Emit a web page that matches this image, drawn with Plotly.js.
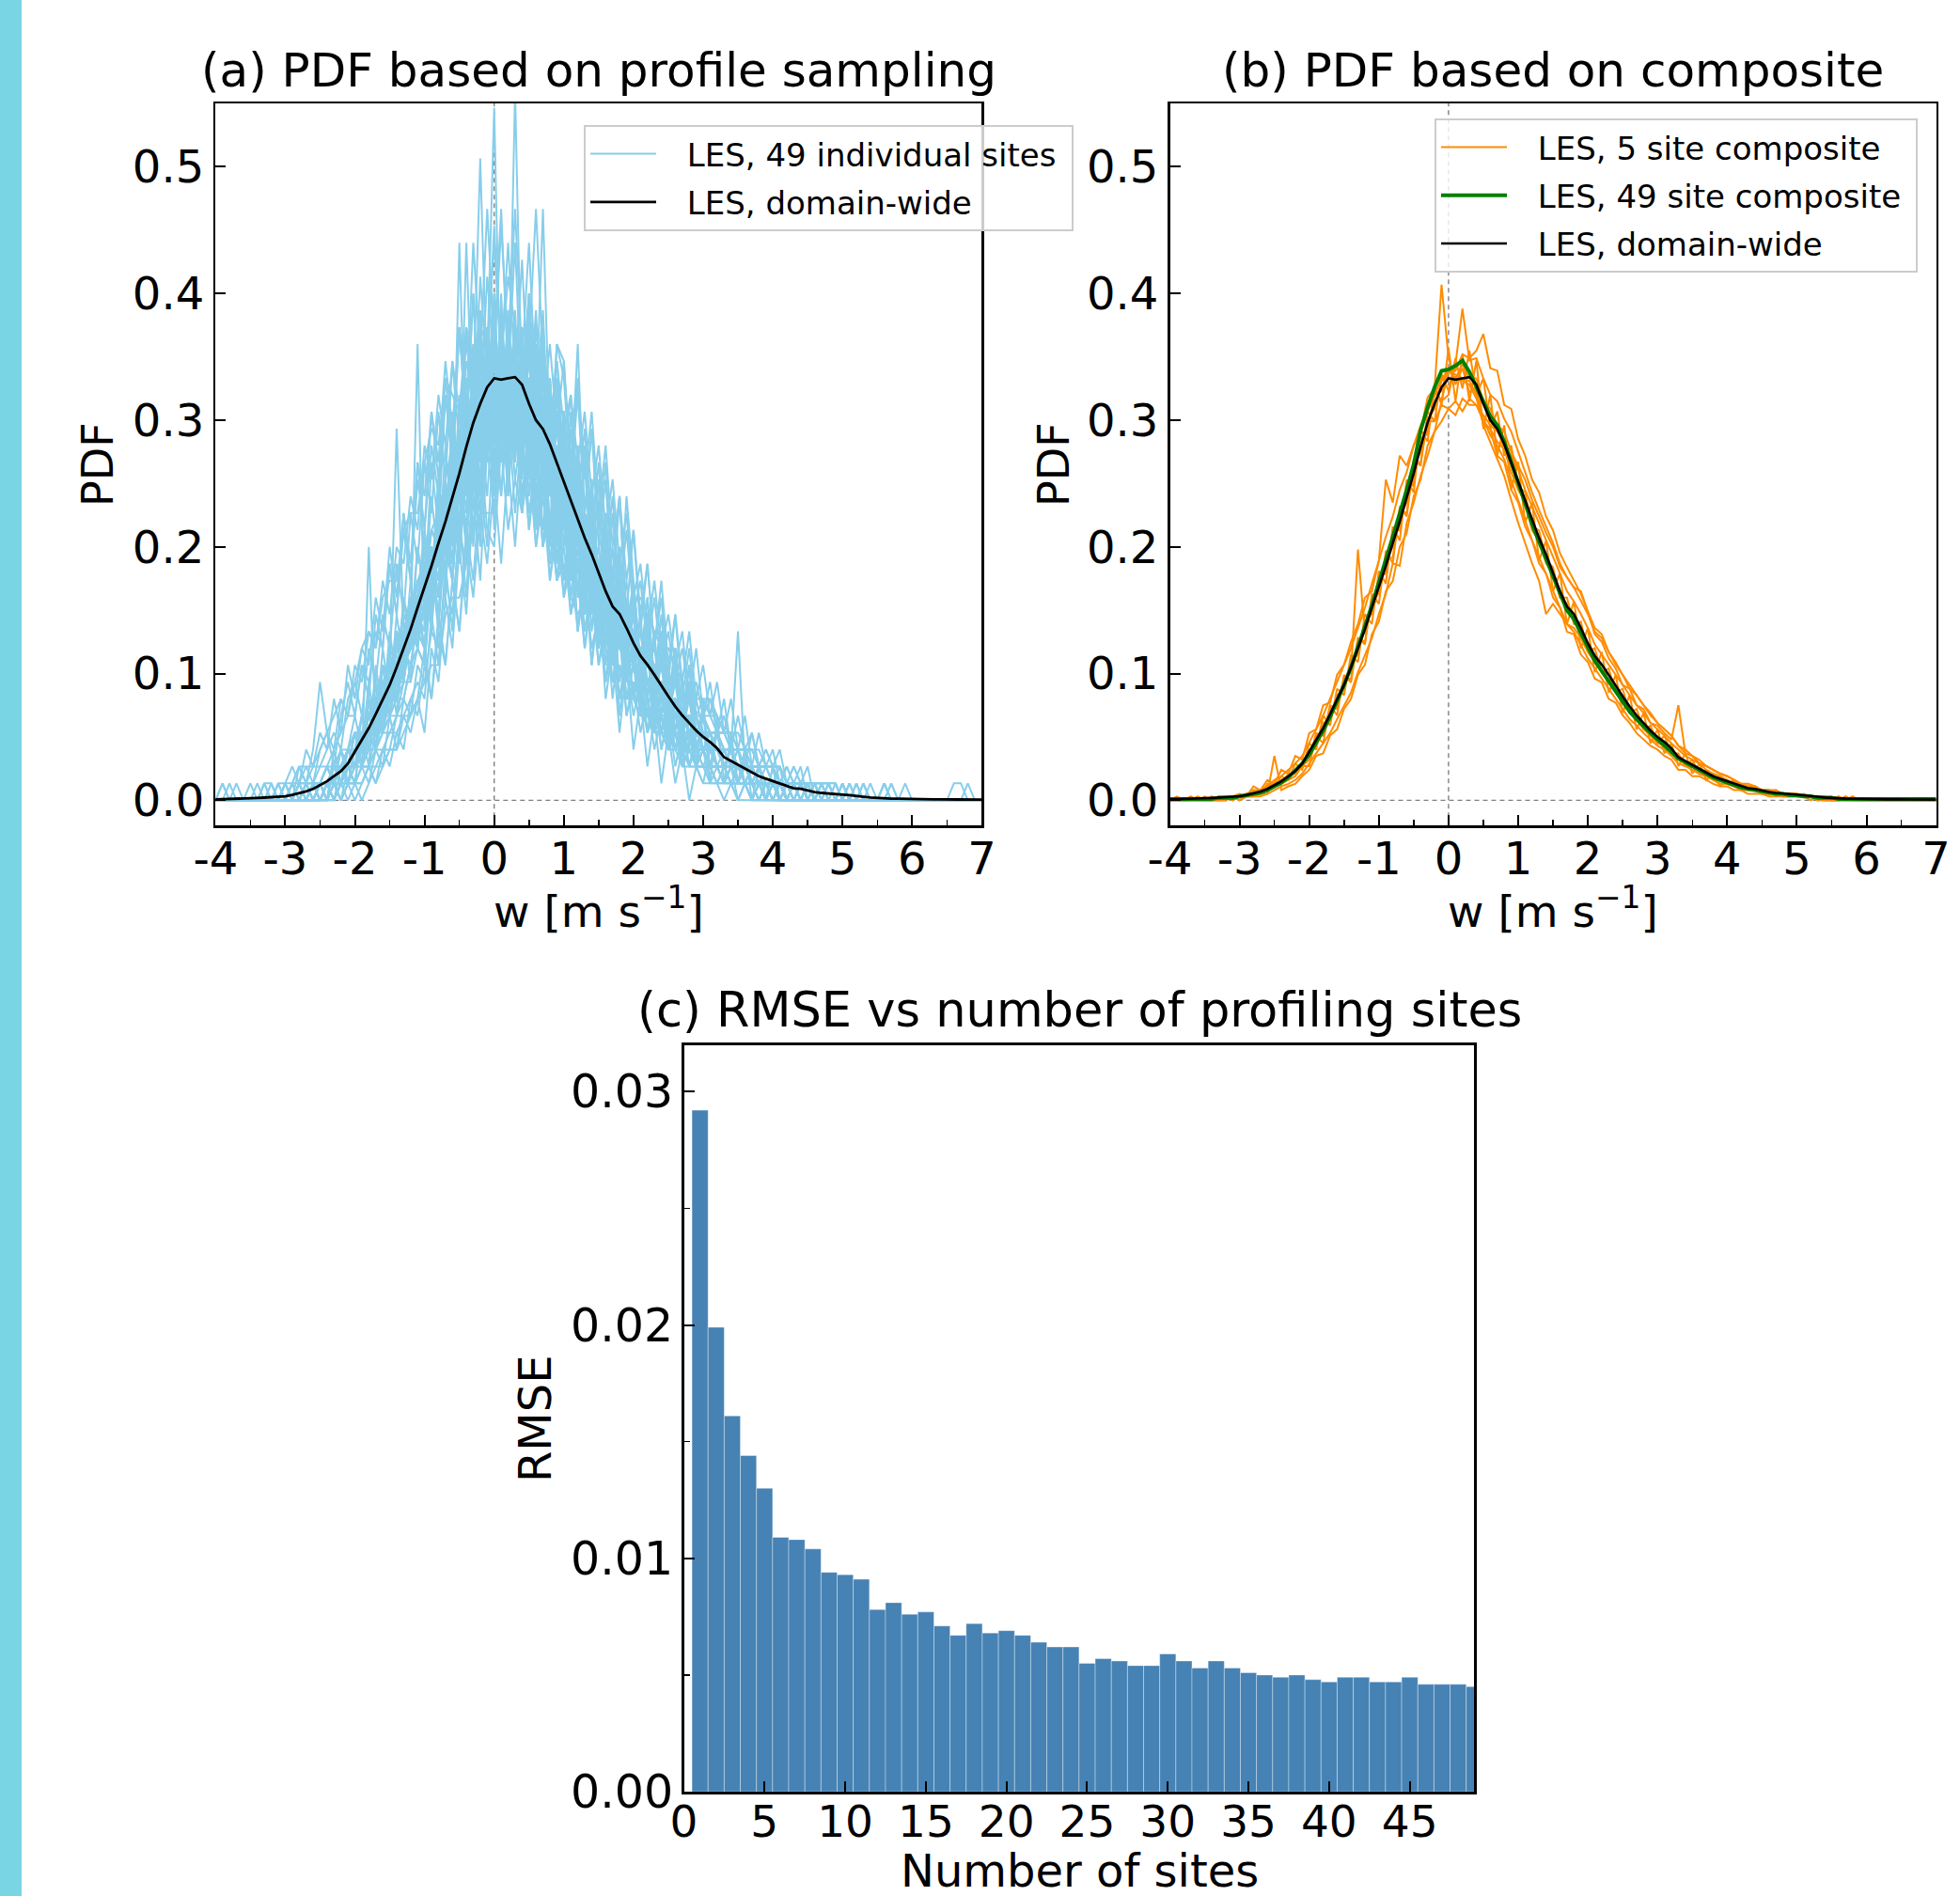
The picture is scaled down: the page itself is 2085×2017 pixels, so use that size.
<!DOCTYPE html>
<html><head><meta charset="utf-8">
<script src="https://cdn.plot.ly/plotly-3.0.1.min.js"></script>
<style>html,body{margin:0;padding:0;background:#fff;}#chart{width:2085px;height:2017px;}</style>
</head><body><div id="chart"></div>
<script>
// ---------------- DATA ----------------
// vertical velocity bins (m s-1)
const wFull = [-4.0,-3.9,-3.8,-3.7,-3.6,-3.5,-3.4,-3.3,-3.2,-3.1,-3.0,-2.9,-2.8,-2.7,-2.6,-2.5,-2.4,-2.3,-2.2,-2.1,-2.0,-1.9,-1.8,-1.7,-1.6,-1.5,-1.4,-1.3,-1.2,-1.1,-1.0,-0.9,-0.8,-0.7,-0.6,-0.5,-0.4,-0.3,-0.2,-0.1,0.0,0.1,0.2,0.3,0.4,0.5,0.6,0.7,0.8,0.9,1.0,1.1,1.2,1.3,1.4,1.5,1.6,1.7,1.8,1.9,2.0,2.1,2.2,2.3,2.4,2.5,2.6,2.7,2.8,2.9,3.0,3.1,3.2,3.3,3.4,3.5,3.6,3.7,3.8,3.9,4.0,4.1,4.2,4.3,4.4,4.5,4.6,4.7,4.8,4.9,5.0,5.1,5.2,5.3,5.4,5.5,5.6,5.7,5.8,5.9,6.0,6.1,6.2,6.3,6.4,6.5,6.6,6.7,6.8,6.9,7.0];
const pdfDomain = [0.0007,0.0008,0.0009,0.0011,0.0013,0.0015,0.0018,0.0021,0.0025,0.0028,0.0032,0.0042,0.0055,0.0070,0.0090,0.012,0.015,0.019,0.023,0.029,0.038,0.048,0.057,0.068,0.079,0.091,0.105,0.120,0.135,0.152,0.168,0.185,0.203,0.220,0.239,0.258,0.279,0.298,0.313,0.326,0.333,0.332,0.333,0.334,0.328,0.313,0.300,0.293,0.281,0.266,0.252,0.236,0.221,0.207,0.194,0.180,0.165,0.153,0.147,0.136,0.124,0.114,0.107,0.099,0.090,0.082,0.074,0.067,0.061,0.055,0.050,0.046,0.041,0.034,0.031,0.028,0.025,0.022,0.019,0.017,0.015,0.013,0.011,0.0095,0.009,0.0075,0.0065,0.0058,0.0052,0.0050,0.0045,0.0040,0.0032,0.0028,0.0022,0.0018,0.0015,0.0013,0.0012,0.0010,0.0009,0.0008,0.0008,0.0007,0.0007,0.0006,0.0006,0.0006,0.0005,0.0005,0.0005];
const pdfComposite49 = [0.001,0.001,0.001,0.001,0.001,0.001,0.001,0.002,0.002,0.002,0.003,0.004,0.005,0.006,0.008,0.011,0.014,0.018,0.023,0.029,0.036,0.045,0.055,0.066,0.078,0.091,0.105,0.120,0.137,0.154,0.171,0.190,0.208,0.226,0.245,0.265,0.292,0.310,0.326,0.339,0.340,0.343,0.347,0.338,0.326,0.314,0.303,0.296,0.283,0.267,0.250,0.234,0.218,0.204,0.190,0.176,0.162,0.150,0.143,0.132,0.120,0.110,0.102,0.094,0.086,0.078,0.070,0.064,0.058,0.053,0.048,0.043,0.038,0.033,0.030,0.027,0.024,0.021,0.018,0.016,0.014,0.012,0.010,0.009,0.008,0.007,0.006,0.005,0.005,0.004,0.004,0.003,0.003,0.002,0.002,0.002,0.001,0.001,0.001,0.001,0.001,0.001,0.001,0.001,0.001,0.001,0.001,0.001,0.001,0.001,0.001];

// samples per 0.1 m/s bin at each of the 49 profiling sites (750 samples per site -> PDF = count / 75)
const siteSamplesPerPdfUnit = 75;
const siteCounts = [
[0,0,0,0,0,0,0,0,0,0, 0,0,1,0,0,1,2,1,3,1, 3,5,4,3,7,6,9,8,12,10, 14,12,17,15,21,18,19,25,22,27, 23,29,21,26,28,20,24,19,25,18, 20,15,19,13,16,11,14,10,12,9, 11,7,9,6,8,5,7,4,5,3, 4,2,4,2,3,1,2,2,1,0, 2,0,1,1,0,0,1,0,0,0, 0,1,0,0,0,0,0,0,0,0, 0,0,0,0,0,0,0,0,0,0,0],
[0,0,0,0,0,1,0,0,1,0, 1,2,1,3,2,4,3,6,4,8, 6,9,8,12,10,15,12,17,14,20, 18,23,20,26,22,28,23,27,22,25, 21,24,19,23,17,21,15,18,13,16, 12,14,10,13,9,11,7,9,6,8, 5,7,4,6,3,5,3,4,2,3, 2,2,1,2,1,1,1,0,1,0, 0,1,0,0,0,0,0,0,0,0, 0,0,0,0,0,0,0,0,0,0, 0,0,0,0,0,0,0,0,0,0,0],
[0,0,0,0,0,0,0,0,0,0, 0,0,0,0,1,0,1,1,1,2, 2,4,3,5,4,7,6,9,8,11, 10,13,14,13,18,16,21,19,24,21, 26,23,27,21,25,28,22,20,24,19, 22,17,19,15,17,12,15,11,13,10, 11,8,10,7,8,6,7,5,6,4, 5,3,4,3,2,3,2,1,2,1, 1,2,0,1,1,0,0,1,0,0, 1,0,0,0,0,0,1,0,0,0, 0,0,0,0,0,0,0,0,0,0,0],
[0,0,0,0,0,0,0,0,0,0, 0,0,0,0,0,1,0,1,1,2, 2,3,4,4,6,5,8,9,11,12, 13,16,15,19,21,20,26,24,28,27, 33,26,31,28,25,30,24,27,21,22, 19,20,16,15,14,12,11,12,9,8, 9,6,7,6,5,4,4,3,4,2, 3,2,2,1,2,1,1,0,1,1, 0,1,0,0,0,0,0,0,0,0, 0,0,0,0,0,0,0,0,0,0, 0,0,0,0,0,0,0,0,0,0,0],
[0,0,0,0,0,0,0,0,0,0, 0,0,0,0,0,0,1,0,1,0, 1,1,2,1,3,2,4,3,6,5, 8,6,10,8,13,10,16,13,19,15, 22,18,25,21,27,22,28,23,27,22, 26,20,25,19,23,17,21,15,18,13, 16,11,14,9,13,8,11,7,10,6, 8,5,7,4,6,3,5,2,4,2, 3,1,2,1,2,0,1,1,1,0, 1,0,1,0,0,0,1,0,0,0, 0,0,0,0,0,0,0,0,0,0,0],
[0,0,0,0,0,0,1,0,0,1, 0,1,2,1,1,3,4,2,5,7, 5,8,6,11,9,14,11,16,13,19, 16,21,18,24,20,28,22,30,21,27, 23,26,19,25,18,22,16,20,14,18, 12,16,10,14,8,12,7,11,5,9, 6,8,4,7,3,5,2,4,3,2, 1,3,2,1,2,0,1,1,0,1, 0,0,1,0,0,0,0,0,0,0, 0,0,0,0,0,0,0,0,0,0, 0,0,0,0,0,0,0,0,0,0,0],
[0,0,0,0,0,0,0,0,0,0, 1,0,0,0,1,1,0,2,1,3, 2,4,5,4,6,8,7,10,9,12, 11,15,14,18,16,20,19,23,21,26, 41,22,28,24,26,21,25,20,23,19, 21,16,18,14,16,12,14,10,12,9, 10,8,9,7,7,5,6,4,5,4, 4,3,3,2,3,1,2,1,2,1, 1,1,0,1,0,1,0,0,0,0, 0,0,0,1,0,0,0,0,0,0, 0,0,0,0,0,0,0,0,0,0,0],
[0,0,0,0,0,0,0,0,0,0, 0,0,0,0,0,1,1,0,1,2, 3,2,4,3,5,6,8,7,10,9, 12,11,15,14,17,18,20,19,23,22, 24,27,22,42,23,26,21,24,19,22, 18,19,15,17,13,15,11,13,10,11, 9,9,7,8,6,7,5,5,4,4, 4,3,3,2,2,2,1,2,1,1, 1,0,1,0,1,0,0,0,0,0, 0,0,0,0,0,0,0,0,0,0, 0,0,0,0,0,0,0,0,0,0,0],
[0,0,0,0,0,0,0,0,0,0, 0,0,1,1,0,1,1,2,2,2, 3,4,4,6,6,8,8,10,10,13, 13,16,15,18,18,22,21,24,38,24, 25,26,23,26,22,24,20,22,18,19, 17,16,14,15,12,13,10,11,9,9, 8,7,7,6,5,5,4,4,3,3, 3,2,2,2,1,1,1,1,0,1, 0,1,0,0,0,0,1,0,0,0, 0,0,0,0,0,0,0,0,0,0, 0,0,0,0,0,0,0,0,0,0,0],
[0,0,0,0,0,0,0,0,0,0, 0,0,0,0,0,0,1,1,2,1, 3,2,15,4,5,7,6,9,11,10, 13,12,16,15,19,18,22,21,25,23, 26,23,27,22,25,22,24,20,22,19, 20,16,18,14,15,12,13,11,11,9, 10,8,8,7,7,6,6,4,5,4, 4,3,3,3,2,2,2,1,1,1, 1,1,1,0,0,1,0,0,0,0, 0,0,0,0,0,0,0,0,0,1, 0,0,0,0,0,0,0,0,0,0,0],
[0,0,1,0,0,0,0,1,0,1, 1,0,2,1,3,7,4,3,6,5, 8,7,10,9,13,11,15,14,18,16, 21,19,24,21,26,23,27,24,26,22, 25,20,24,19,22,17,20,15,17,13, 15,11,13,9,12,8,10,7,8,6, 7,4,6,3,5,3,4,2,3,2, 3,1,2,1,2,1,1,0,1,0, 1,0,0,0,0,0,0,0,0,0, 0,0,0,0,0,0,0,0,0,0, 0,0,0,0,0,0,0,0,0,0,0],
[0,0,0,0,0,0,0,0,0,0, 0,0,0,0,0,1,0,0,1,1, 1,2,1,3,2,5,3,6,5,8, 7,10,9,13,11,16,14,18,16,22, 19,25,21,27,23,28,22,27,22,26, 20,24,18,22,16,20,14,18,12,16, 11,13,9,12,8,10,7,9,6,7, 5,6,4,5,3,10,2,4,2,3, 2,1,2,1,1,0,1,1,0,1, 0,0,1,0,0,0,0,0,0,0, 0,0,0,0,0,0,0,0,0,0,0],
[0,0,0,0,0,0,0,0,0,0, 0,0,0,1,0,1,1,1,2,2, 3,3,5,5,6,6,8,9,10,27, 10,15,13,19,16,22,18,25,20,28, 22,29,23,27,21,27,20,25,18,23, 18,19,16,16,14,14,12,12,10,11, 9,9,8,7,7,6,5,5,4,4, 4,3,3,2,2,2,2,1,1,1, 1,1,0,1,0,0,0,1,0,0, 0,0,0,0,0,0,0,0,0,0, 0,0,0,0,0,0,0,0,0,0,0],
[0,0,0,0,0,0,0,0,0,0, 0,1,0,0,1,1,1,2,2,3, 3,4,5,6,7,8,22,10,12,12, 16,13,19,15,22,18,25,20,28,23, 29,22,27,21,26,19,24,18,22,16, 20,14,17,12,15,10,13,9,11,8, 8,7,7,6,6,5,4,4,4,3, 3,3,2,2,2,1,1,1,1,1, 1,0,0,0,0,0,0,0,0,0, 0,0,0,0,0,0,0,0,0,0, 0,0,0,0,0,0,0,0,0,0,0],
[0,0,0,0,0,0,0,0,0,0, 0,0,0,0,0,1,0,1,1,2, 2,3,3,5,4,6,6,8,9,10, 14,10,16,13,18,15,22,18,25,21, 20,30,21,28,20,28,19,27,18,25, 20,19,27,16,16,14,13,12,12,11, 12,8,10,6,9,5,8,4,6,3, 4,4,3,3,2,2,2,2,1,1, 1,1,1,0,1,0,0,0,1,0, 0,0,0,0,0,0,0,0,0,0, 0,0,0,0,0,0,0,0,0,0,0],
[0,1,0,0,0,0,0,0,0,0, 0,1,0,1,1,1,2,2,3,3, 4,4,5,6,7,7,9,9,11,11, 13,11,16,13,18,14,20,15,21,16, 15,21,16,19,17,20,15,19,14,18, 16,16,15,14,14,13,12,12,11,11, 10,9,9,8,8,7,7,6,6,5, 5,4,4,4,3,3,3,2,2,2, 2,1,1,1,1,1,0,1,0,0, 1,0,0,0,0,0,0,1,0,0, 0,0,0,0,0,0,0,0,0,0,0],
[0,0,0,0,0,0,0,0,0,0, 0,0,0,0,0,0,1,1,1,2, 1,4,3,6,4,8,5,10,7,12, 9,15,12,17,14,20,16,23,19,25, 21,27,22,28,22,27,35,26,19,24, 17,22,15,20,13,17,11,15,10,13, 8,11,6,10,5,8,4,7,3,6, 4,3,3,3,2,2,2,2,1,1, 1,1,1,0,0,1,0,0,0,0, 0,0,0,0,0,0,0,0,0,0, 0,0,0,0,0,0,0,0,0,0,0],
[0,0,0,0,0,0,0,0,0,0, 0,0,1,0,1,1,2,1,3,2, 4,3,6,5,8,7,10,9,12,11, 14,13,16,15,19,18,33,21,24,23, 27,23,26,24,25,21,23,19,21,17, 19,15,16,13,14,11,12,9,10,8, 9,6,7,5,6,4,5,3,4,2, 3,2,2,1,2,1,1,0,1,0, 1,0,0,0,0,0,0,0,0,0, 0,0,0,0,0,0,0,0,0,0, 0,0,0,0,0,0,0,0,0,0,0],
[0,0,0,0,0,0,0,0,0,0, 0,0,0,0,1,0,0,1,1,1, 2,2,2,4,4,5,6,6,8,9, 8,14,10,16,13,19,15,21,17,24, 22,24,23,26,24,25,23,35,21,23, 23,17,21,15,19,13,17,11,14,10, 13,8,11,7,10,5,9,4,7,3, 5,4,4,3,3,3,2,2,2,2, 1,1,1,1,1,0,1,0,0,0, 0,0,0,0,1,0,0,0,0,0, 0,0,0,0,0,0,0,0,0,0,0],
[0,0,0,0,0,0,0,0,0,0, 0,0,0,0,1,1,1,1,1,3, 2,4,3,6,5,8,7,10,9,12, 11,15,13,18,16,33,19,24,21,26, 23,27,22,26,23,25,20,24,19,21, 17,19,15,17,13,15,11,13,10,11, 8,10,7,8,6,7,5,6,4,5, 3,4,2,3,2,2,1,2,1,1, 1,1,0,1,0,1,0,0,0,0, 0,0,0,0,0,0,0,0,0,0, 0,0,0,0,0,0,0,0,0,0,0],
[0,0,0,0,0,0,0,0,0,0, 0,0,0,1,0,1,2,1,2,3, 4,4,5,7,6,9,8,11,10,13, 14,13,17,16,20,19,23,21,25,24, 30,21,27,22,26,20,25,19,23,16, 21,14,18,12,16,10,13,9,11,7, 8,7,7,6,5,5,4,4,3,3, 3,2,2,2,1,1,1,1,1,0, 1,0,0,0,0,0,0,0,0,0, 0,0,0,0,0,0,0,0,0,0, 0,0,0,0,0,0,0,0,0,0,0],
[0,0,0,0,0,0,0,0,0,1, 0,0,1,0,1,1,1,1,2,2, 3,3,4,5,5,6,7,8,9,10, 9,14,11,17,13,20,15,23,18,26, 19,26,18,27,19,25,17,24,16,23, 21,15,20,13,19,12,17,10,15,9, 13,8,12,7,11,6,9,5,8,4, 5,4,4,4,3,3,3,2,2,2, 2,1,1,1,1,1,1,0,0,1, 0,0,1,0,0,0,0,0,0,0, 0,0,0,0,0,0,0,0,0,0,0],
[0,0,0,0,0,0,0,0,0,0, 0,0,0,0,0,0,1,1,1,2, 1,4,2,7,4,9,6,12,9,15, 12,20,16,24,20,28,23,33,26,35, 27,35,25,33,23,30,19,26,15,21, 13,17,10,14,8,12,6,9,4,8, 3,6,2,5,1,4,1,3,0,2, 1,1,1,0,1,0,0,0,0,0, 0,0,0,0,0,0,0,0,0,0, 0,0,0,0,0,0,0,0,0,0, 0,0,0,0,0,0,0,0,0,0,0],
[0,0,0,0,0,0,0,1,0,0, 0,0,0,1,0,1,1,0,1,2, 1,2,2,3,3,4,4,5,5,6, 9,6,11,8,13,10,15,12,17,14, 19,14,20,15,21,16,20,15,20,14, 20,14,19,13,17,11,16,10,15,9, 12,8,11,7,10,6,9,5,8,4, 5,5,4,4,4,3,3,3,2,2, 2,2,1,1,1,1,1,1,1,0, 1,0,0,1,0,0,0,0,0,0, 0,0,0,0,0,0,0,0,0,0,0],
[0,0,0,0,0,0,0,0,0,0, 0,0,0,0,1,0,1,2,1,2, 4,3,5,4,7,6,9,8,11,10, 14,13,16,15,19,18,22,20,24,23, 27,23,26,24,26,22,24,21,23,19, 20,17,17,15,16,13,13,11,12,10, 10,8,9,7,7,6,6,5,5,4, 4,3,3,2,3,2,2,1,2,1, 1,1,1,0,1,0,0,0,0,0, 0,0,0,0,0,0,0,0,0,0, 0,0,0,0,0,0,0,0,0,0,0],
[0,0,0,1,0,0,0,0,1,0, 1,0,1,2,1,2,3,4,3,6, 7,5,9,7,11,9,14,11,17,14, 20,17,23,19,26,21,28,23,29,22, 28,21,26,20,25,18,22,16,20,14, 17,12,15,10,13,9,11,8,10,6, 8,5,6,4,5,3,4,3,4,2, 3,2,2,1,2,1,1,1,0,1, 0,1,0,0,0,0,0,0,0,0, 0,0,0,0,0,0,0,0,0,0, 0,0,0,0,0,0,0,0,0,0,0],
[0,0,0,0,0,0,0,0,0,0, 0,0,0,0,0,1,0,1,1,2, 3,2,4,3,6,5,7,7,10,9, 12,11,15,13,17,16,20,19,22,22, 25,22,26,23,27,22,25,21,24,20, 21,17,19,15,17,13,15,11,13,10, 11,8,9,7,8,6,7,5,5,4, 5,3,4,2,3,2,2,1,2,1, 1,1,0,1,0,0,1,0,0,0, 0,0,0,0,0,0,0,0,0,0, 0,0,0,0,0,0,0,0,1,0,0],
[0,0,0,0,0,0,0,0,0,0, 0,0,0,0,0,0,0,1,1,1, 2,2,3,4,5,5,6,8,9,11, 15,11,19,15,23,19,28,22,31,25, 34,26,33,25,32,23,29,20,25,16, 21,13,18,11,15,9,12,7,10,5, 7,6,5,5,4,4,3,3,2,2, 2,2,1,1,1,1,1,0,0,0, 0,0,0,0,0,0,0,0,0,0, 0,0,0,0,0,0,0,0,0,0, 0,0,0,0,0,0,0,0,0,0,0],
[0,0,0,0,0,0,0,0,0,0, 0,0,0,0,0,0,0,1,0,1, 1,0,1,2,2,3,3,4,5,6, 4,9,7,12,9,15,11,18,13,21, 17,21,20,25,22,26,23,27,22,26, 22,24,20,23,18,21,16,19,14,17, 12,14,10,13,9,11,8,10,6,9, 5,7,4,6,3,5,3,4,2,3, 2,3,1,2,1,2,0,1,1,1, 0,1,0,1,0,0,1,0,0,0, 0,0,0,0,0,0,1,1,0,0,0],
[0,0,0,0,0,0,0,0,0,0, 0,0,0,1,1,0,1,2,2,3, 2,5,3,8,5,10,7,12,10,15, 12,18,14,21,16,24,19,26,21,28, 22,28,20,27,21,25,18,23,16,21, 15,19,12,17,11,14,9,12,7,10, 6,9,5,8,4,6,3,5,2,4, 3,2,2,2,1,1,1,1,1,1, 0,1,0,0,0,0,0,0,0,0, 0,0,0,0,0,0,0,0,0,0, 0,0,0,0,0,0,0,0,0,0,0],
[0,0,0,0,0,0,0,0,0,0, 0,0,0,0,0,0,1,1,0,2, 2,3,3,4,5,6,6,8,9,10, 13,10,17,12,20,15,23,18,25,21, 27,21,28,22,27,20,26,19,25,18, 22,16,21,14,18,12,17,10,15,9, 12,7,11,6,9,5,8,4,7,3, 4,4,3,3,2,2,2,2,1,1, 1,1,1,1,0,0,0,0,0,0, 0,0,0,0,0,0,0,0,0,0, 0,0,0,0,0,0,0,0,0,0,0],
[0,0,0,0,0,0,0,0,0,0, 0,1,0,0,0,1,1,1,2,2, 4,2,6,3,8,5,10,7,12,9, 15,11,18,13,21,16,24,19,26,21, 28,22,28,21,27,20,25,19,24,17, 22,15,20,13,17,11,15,9,13,8, 11,7,10,6,9,4,8,4,7,3, 5,2,4,2,3,1,3,1,2,0, 1,1,1,1,1,1,0,0,0,0, 0,0,0,0,0,0,0,0,0,0, 0,0,0,0,0,0,0,0,0,0,0],
[0,0,0,0,0,0,0,0,0,0, 0,1,1,1,2,2,2,3,4,5, 5,8,7,10,9,14,11,17,13,20, 16,23,19,25,21,28,22,30,21,28, 16,27,19,25,17,23,16,20,13,17, 17,11,14,9,13,8,11,6,10,5, 7,6,5,5,4,4,4,3,3,2, 2,2,2,1,1,1,1,1,1,0, 1,0,0,0,0,0,0,0,0,0, 0,0,0,0,0,0,0,0,0,0, 0,0,0,0,0,0,0,0,0,0,0],
[0,0,0,0,0,0,0,0,0,0, 0,0,0,0,0,1,0,1,0,1, 1,2,3,3,4,5,5,7,7,9, 8,13,11,15,13,18,16,21,18,24, 20,26,21,28,22,28,21,27,20,25, 18,23,16,21,14,19,12,17,11,18, 13,8,12,7,10,5,9,4,8,3, 5,4,4,3,3,3,2,2,2,2, 1,1,1,1,1,1,0,1,0,0, 0,0,0,0,0,0,0,0,0,0, 0,0,0,0,0,0,0,0,0,0,0],
[0,0,0,0,0,0,0,0,0,0, 0,0,0,1,0,0,1,1,2,2, 3,3,4,5,5,6,7,8,9,10, 9,14,11,16,13,19,15,21,17,23, 18,24,18,24,17,22,16,21,15,19, 18,13,17,12,15,10,13,9,12,7, 9,8,8,7,6,6,5,5,4,4, 4,3,3,3,2,2,2,2,1,1, 1,1,1,1,0,1,0,0,0,0, 0,0,0,0,0,0,1,0,0,0, 0,0,0,0,0,0,0,0,0,0,0],
[0,0,0,0,0,0,0,0,0,0, 0,0,1,0,1,1,1,2,2,3, 5,3,7,4,9,6,11,8,13,10, 16,12,19,15,23,18,25,21,28,22, 29,22,28,21,26,19,24,18,22,15, 20,13,18,11,16,9,14,8,12,7, 10,5,9,4,7,3,6,2,5,2, 3,3,2,2,2,1,1,1,1,1, 1,0,0,0,0,0,0,0,0,0, 0,0,0,0,0,0,0,0,0,0, 0,0,0,0,0,0,0,0,0,0,0],
[0,0,0,0,0,0,0,0,0,0, 0,0,0,0,1,0,1,1,1,1, 2,3,3,5,5,6,7,8,9,11, 9,15,12,18,14,21,17,24,20,26, 21,28,22,29,21,27,20,25,18,23, 23,16,20,13,18,11,16,10,14,8, 12,7,10,6,9,4,8,3,7,2, 4,4,3,3,2,2,2,2,1,1, 1,1,1,0,1,0,1,0,0,0, 1,0,0,0,0,0,0,0,0,0, 0,0,0,0,0,0,0,0,0,0,0],
[0,0,0,0,0,0,0,0,0,0, 0,0,0,0,0,1,2,1,1,3, 2,3,5,6,5,8,9,8,11,13, 12,16,17,15,19,20,23,22,22,27, 24,24,28,25,21,23,25,20,19,22, 18,19,15,16,16,12,11,13,10,10, 9,10,7,7,8,5,6,5,4,5, 3,4,3,2,2,3,1,2,2,1, 1,1,0,1,1,0,0,1,0,0, 0,0,0,0,0,0,0,0,0,0, 0,0,0,0,0,0,0,0,0,0,0],
[0,0,0,0,0,0,0,0,0,0, 0,0,1,1,0,1,1,2,2,2, 4,4,4,6,8,7,9,11,10,12, 15,13,18,18,17,22,21,23,27,23, 26,25,22,27,22,24,20,22,20,17, 19,16,14,16,12,13,11,9,11,8, 9,6,7,6,4,6,4,3,4,3, 2,3,2,1,2,1,1,1,0,1, 1,0,0,0,0,1,0,0,0,0, 0,0,0,0,0,0,0,0,0,0, 0,0,0,0,0,0,0,0,0,0,0],
[0,0,0,0,0,0,0,0,0,0, 0,0,0,0,1,0,0,1,0,1, 0,1,2,1,2,3,3,5,4,6, 7,8,8,11,12,12,14,16,17,17, 17,23,20,26,22,27,23,28,20,27, 26,18,25,17,22,16,20,13,18,11, 16,10,14,9,12,7,11,6,9,5, 6,6,5,4,4,4,3,3,3,2, 2,2,1,2,1,1,1,0,1,1, 0,1,0,0,0,0,0,1,0,0, 0,0,0,0,0,0,0,0,0,0,0],
[0,0,0,0,0,0,0,0,0,0, 0,0,0,1,1,0,1,1,2,1, 3,4,3,6,6,7,7,10,10,11, 14,13,15,18,17,20,22,21,25,24, 24,27,25,23,27,22,22,23,19,21, 18,18,17,14,15,14,11,12,12,9, 10,8,8,8,6,6,6,4,5,4, 4,3,3,2,3,2,1,2,1,2, 1,1,1,0,1,0,0,0,1,0, 0,0,0,0,0,0,0,0,0,0, 0,0,0,0,0,0,0,0,0,0,0],
[0,0,0,0,0,0,0,1,1,0, 1,1,2,2,2,3,4,5,6,5, 7,9,10,9,12,13,13,16,17,17, 20,22,21,25,24,23,28,26,24,27, 22,24,21,23,18,20,17,16,17,13, 14,12,11,12,9,10,9,7,8,6, 6,6,4,5,4,3,4,2,3,2, 2,2,1,2,1,1,1,0,1,1, 0,0,1,0,0,0,0,0,0,0, 0,0,0,0,0,0,0,0,0,0, 0,0,0,0,0,0,0,0,0,0,0],
[0,0,0,0,0,0,0,0,0,0, 0,0,0,0,0,1,1,0,2,1, 2,3,4,3,5,7,6,7,10,10, 11,12,15,14,16,19,18,21,23,21, 25,23,24,27,22,25,24,21,23,20, 20,20,17,17,16,13,14,13,11,12, 9,10,8,9,6,7,7,5,5,5, 4,4,3,3,3,2,2,1,2,1, 1,1,1,0,1,1,0,0,0,0, 0,0,0,0,0,0,0,0,0,0, 0,0,0,0,0,0,0,0,0,0,0],
[0,0,0,0,0,0,0,0,0,0, 0,0,0,0,1,1,0,3,1,2, 4,2,6,3,7,5,10,7,12,9, 16,10,18,13,22,16,25,19,28,20, 30,21,29,20,28,19,27,19,25,17, 23,14,20,12,18,11,16,9,14,8, 12,6,10,5,9,4,8,3,7,2, 6,1,5,1,4,1,3,0,2,0, 2,0,1,0,1,0,0,0,0,0, 0,0,0,0,0,0,0,0,0,0, 0,0,0,0,0,0,0,0,0,0,0],
[0,0,0,0,0,0,0,0,0,0, 0,0,1,0,1,1,1,2,2,2, 3,4,4,5,6,7,8,9,10,11, 14,11,16,13,19,14,21,16,22,18, 24,18,23,17,22,16,21,15,19,13, 17,12,16,11,14,9,12,8,11,6, 8,7,7,6,6,5,5,4,4,3, 3,3,2,2,2,2,1,1,1,1, 1,1,0,1,0,0,0,0,0,0, 0,0,0,0,0,0,0,0,0,0, 0,0,0,0,0,0,0,0,0,0,0],
[0,0,0,0,0,0,0,0,0,0, 0,0,0,0,0,0,0,1,0,1, 1,2,2,3,4,4,5,6,8,9, 8,14,12,19,15,23,19,27,23,31, 26,34,27,35,26,33,24,29,20,25, 16,20,12,17,10,14,8,11,6,9, 6,5,5,4,4,3,3,2,2,2, 2,1,1,1,1,0,1,0,0,0, 0,0,0,0,0,0,0,0,0,0, 0,0,0,0,0,0,0,0,0,0, 0,0,0,0,0,0,0,0,0,0,0],
[0,0,0,0,0,0,0,0,0,0, 1,0,0,1,0,0,1,1,1,2, 3,3,5,4,5,7,8,8,9,12, 12,14,14,17,18,18,21,23,22,26, 25,23,26,25,23,24,21,23,21,19, 19,18,16,16,14,14,12,11,12,10, 9,9,8,7,7,6,5,5,5,4, 4,3,3,3,2,2,2,1,1,1, 1,1,1,1,0,0,1,0,0,0, 0,0,0,0,0,0,0,0,0,0, 0,0,0,0,0,0,0,0,0,0,0],
[0,0,0,0,0,0,0,0,0,0, 0,0,0,0,0,1,0,0,1,1, 1,1,2,2,3,3,5,5,6,7, 6,11,8,14,10,17,12,20,15,23, 18,25,20,28,21,29,21,28,20,27, 25,19,24,17,22,15,19,12,18,10, 12,12,11,10,9,9,8,7,7,6, 6,5,5,4,4,3,3,3,2,2, 2,2,1,1,1,1,1,1,1,0, 1,0,0,0,0,0,0,0,0,0, 0,0,0,0,0,0,0,0,0,0,0],
[0,1,0,0,0,0,0,0,0,0, 0,0,1,0,1,1,2,1,2,3, 3,5,4,6,7,7,9,10,11,12, 14,16,15,18,19,21,20,23,25,24, 26,24,26,23,24,21,23,20,20,18, 18,15,16,13,14,11,12,10,9,9, 8,8,6,6,6,4,5,4,3,3, 3,2,2,2,1,2,1,1,0,1, 1,0,0,0,0,0,0,0,0,0, 0,0,0,0,0,0,0,0,0,0, 0,0,0,0,0,0,0,0,0,0,0]
];

// PDF x 1000 of the 5-site composites
const composite5PdfMilli = [
[0,0,0,3,0,0,3,0,3,3, 5,3,11,8,16,13,24,21,35,32, 53,56,75,77,99,107,125,139,160,165, 189,208,224,245,259,280,291,318,325,407, 349,328,341,322,325,296,293,272,267,245, 235,216,205,187,179,160,152,133,131,115, 109,96,93,80,77,67,61,53,48,43, 40,35,32,24,24,19,19,16,13,11, 11,8,8,5,5,5,3,3,3,3, 3,3,0,3,0,0,0,0,0,0, 0,0,0,0,0,0,0,0,0,0,0],
[0,0,0,0,0,0,0,0,0,3, 0,3,3,3,5,35,8,11,13,19, 24,35,37,51,56,72,80,99,107,131, 141,165,173,200,211,240,253,280,291,315, 320,344,388,347,349,333,320,315,301,291, 275,259,243,229,216,203,187,176,168,157, 147,133,128,117,107,99,88,83,75,67, 61,56,51,43,40,35,32,27,24,21, 19,16,13,13,11,8,8,8,5,5, 5,3,3,3,3,0,3,0,0,0, 0,0,0,0,0,0,0,0,0,0,0],
[0,0,0,0,3,0,0,3,3,0, 3,5,5,8,11,11,16,19,21,29, 40,43,61,64,83,88,109,115,141,147, 168,184,208,216,245,251,285,291,320,323, 341,339,352,349,355,368,341,339,312,309, 285,272,253,243,224,213,195,184,173,163, 149,136,131,117,109,99,91,83,75,69, 61,56,51,43,37,35,29,27,24,21, 19,16,13,11,11,8,8,5,5,5, 5,3,3,3,3,0,0,3,0,0, 0,0,0,0,0,0,0,0,0,0,0],
[0,0,0,0,0,0,0,0,3,0, 3,3,5,8,8,13,13,21,21,29, 35,51,53,72,75,96,101,198,131,157, 163,189,192,227,227,264,267,299,299,312, 309,304,317,312,312,299,293,283,277,259, 245,235,213,205,187,181,160,155,141,136, 120,115,101,99,85,83,69,67,56,56, 48,45,40,35,29,29,24,21,19,16, 16,13,11,8,8,8,5,5,5,5, 3,3,3,3,0,0,3,0,0,0, 0,0,0,0,0,0,0,0,0,0,0],
[0,0,0,3,0,0,0,3,3,3, 3,5,8,5,13,11,19,16,29,24, 45,40,67,59,88,83,115,109,147,139, 181,171,216,205,253,243,293,283,328,312, 357,315,352,315,347,293,320,272,296,245, 267,219,235,189,205,165,179,139,157,120, 136,101,117,85,99,69,83,56,69,45, 56,37,45,27,37,21,29,16,21,11, 16,11,13,8,11,5,8,3,5,3, 5,3,3,0,3,0,0,0,3,0, 0,0,0,0,0,0,0,0,0,0,0],
[0,0,0,0,0,3,0,0,3,3, 3,5,5,8,11,13,16,19,24,29, 37,48,59,69,80,91,104,123,136,152, 176,179,213,213,251,248,291,288,325,315, 339,336,333,331,320,296,283,269,256,237, 219,203,187,173,147,155,147,139,136,128, 117,109,101,93,85,77,69,64,56,51, 45,43,37,32,29,24,21,19,16,13, 13,11,11,8,8,5,5,5,3,3, 3,3,3,0,0,0,3,0,0,0, 0,0,0,0,0,0,0,0,0,0,0],
[0,3,0,0,0,0,0,3,0,3, 3,3,5,8,8,13,16,19,24,27, 32,53,51,75,72,96,96,128,125,160, 165,189,200,224,235,264,275,301,309,331, 341,333,344,333,333,315,309,296,291,275, 264,253,237,224,211,200,184,176,168,165, 149,131,125,112,104,91,88,75,72,61, 59,53,48,75,37,35,29,27,24,21, 19,16,13,11,11,8,8,5,5,5, 5,3,3,3,3,3,0,3,0,0, 0,0,0,0,0,0,0,0,0,0,0],
[0,0,0,0,0,0,3,0,0,3, 3,3,3,5,8,11,13,16,19,27, 27,51,45,75,67,99,93,128,123,163, 155,197,187,232,224,269,264,307,299,336, 323,349,325,355,320,333,293,307,272,280, 248,243,216,213,189,184,160,160,139,141, 117,120,101,104,85,88,69,72,56,59, 45,51,37,37,27,32,21,24,16,19, 13,16,8,11,8,8,5,8,3,5, 3,5,3,3,3,0,0,3,0,0, 0,0,0,0,0,0,0,0,0,0,0],
[0,0,0,0,3,0,0,3,0,3, 3,5,8,8,11,16,19,24,29,35, 45,56,67,80,93,107,120,136,152,171, 189,253,235,272,264,280,296,307,320,333, 339,333,331,328,317,301,288,280,269,253, 237,221,205,192,179,165,152,139,133,123, 112,104,96,88,80,72,64,59,53,48, 43,40,35,29,27,24,21,19,16,13, 13,11,8,8,8,5,5,5,3,3, 3,3,3,0,0,0,0,0,0,0, 0,0,0,0,0,0,0,0,0,0,0],
[0,0,0,0,0,0,0,0,0,3, 0,3,3,5,5,8,11,13,16,21, 29,37,45,53,64,75,85,101,115,128, 147,163,187,185,219,235,256,272,291,299, 309,315,307,317,312,304,296,291,280,272, 261,245,232,219,205,192,179,165,157,147, 136,123,115,107,99,91,83,75,69,61, 56,51,45,40,35,32,29,24,21,19, 16,13,13,11,8,8,8,5,5,5, 3,3,3,3,3,0,0,0,3,0, 0,0,0,0,0,0,0,0,0,0,0]
];

// panel (c): RMSE versus number of profiling sites
const nSites = [1,2,3,4,5,6,7,8,9,10,11,12,13,14,15,16,17,18,19,20,21,22,23,24,25,26,27,28,29,30,31,32,33,34,35,36,37,38,39,40,41,42,43,44,45,46,47,48,49];
const rmse = [0.0292,0.0199,0.0161,0.0144,0.0130,0.0109,0.0108,0.0104,0.0094,0.0093,0.0091,0.0078,0.0081,0.0076,0.0077,0.0071,0.0067,0.0072,0.0068,0.0069,0.0067,0.0064,0.0062,0.0062,0.0055,0.0057,0.0056,0.0054,0.0054,0.0059,0.0056,0.0053,0.0056,0.0053,0.0051,0.0050,0.0049,0.0050,0.0048,0.0047,0.0049,0.0049,0.0047,0.0047,0.0049,0.0046,0.0046,0.0046,0.0045];

// tick labels
const wTickVals = [-4,-3,-2,-1,0,1,2,3,4,5,6,7];
const wTickText = ['-4','-3','-2','-1','0','1','2','3','4','5','6','7'];
const pdfTickVals = [0,0.1,0.2,0.3,0.4,0.5];
const pdfTickText = ['0.0','0.1','0.2','0.3','0.4','0.5'];
const siteTickVals = [0,5,10,15,20,25,30,35,40,45];
const rmseTickVals = [0,0.01,0.02,0.03];
const rmseTickText = ['0.00','0.01','0.02','0.03'];

// ---------------- FIGURE ----------------
const W = 2085, H = 2017;
const FONT = 'DejaVu Sans';
const fx = p => p / W;
const fy = p => 1 - p / H;
const NB = '\u2002\u00a0';

const traces = [];
siteCounts.forEach((c, i) => traces.push({
  type: 'scatter', mode: 'lines', x: wFull, y: c.map(v => v / siteSamplesPerPdfUnit), xaxis: 'x', yaxis: 'y',
  line: {color: '#87CEEB', width: 2}, name: NB + 'LES, 49 individual sites\u00a0',
  legend: 'legend', legendgroup: 'sites', showlegend: i === 0, hoverinfo: 'skip'
}));
traces.push({type: 'scatter', mode: 'lines', x: wFull, y: pdfDomain, xaxis: 'x', yaxis: 'y',
  line: {color: 'black', width: 2.8}, name: NB + 'LES, domain-wide', legend: 'legend', legendgroup: 'dom'});
composite5PdfMilli.forEach((c, i) => traces.push({
  type: 'scatter', mode: 'lines', x: wFull, y: c.map(v => v / 1000), xaxis: 'x2', yaxis: 'y2',
  line: {color: '#FF8C00', width: 2}, name: NB + 'LES, 5 site composite',
  legend: 'legend2', legendgroup: 'c5', showlegend: i === 0, hoverinfo: 'skip'
}));
traces.push({type: 'scatter', mode: 'lines', x: wFull, y: pdfComposite49, xaxis: 'x2', yaxis: 'y2',
  line: {color: '#008000', width: 4}, name: NB + 'LES, 49 site composite\u00a0', legend: 'legend2', legendgroup: 'c49'});
traces.push({type: 'scatter', mode: 'lines', x: wFull, y: pdfDomain, xaxis: 'x2', yaxis: 'y2',
  line: {color: 'black', width: 2.6}, name: NB + 'LES, domain-wide', legend: 'legend2', legendgroup: 'dom2'});
traces.push({type: 'bar', x: nSites, y: rmse, xaxis: 'x3', yaxis: 'y3', width: 1,
  marker: {color: '#4682B4', line: {color: 'rgba(255,255,255,0.35)', width: 1}}, showlegend: false});

const ax = {
  showline: true, linecolor: 'black', linewidth: 2.5, mirror: true,
  ticks: 'inside', ticklen: 11, tickwidth: 2, tickcolor: 'black',
  showgrid: false, zeroline: false, fixedrange: true,
  tickfont: {family: FONT, size: 48, color: 'black'}
};
const yDomAB = [fy(878.3), fy(110)];
const minorW = {ticks: 'inside', ticklen: 6, tickwidth: 1.5, tickcolor: 'black', dtick: 0.5, tick0: 0};

const legendStyle = {
  bgcolor: 'rgba(255,255,255,0.8)', bordercolor: '#cccccc', borderwidth: 2,
  font: {family: FONT, size: 34, color: 'black'}, itemwidth: 70, tracegroupgap: 4,
  xanchor: 'left', yanchor: 'top', xref: 'paper', yref: 'paper'
};

function ann(text, xp, yp, size, angle) {
  return {text: text, x: fx(xp), y: fy(yp), xref: 'paper', yref: 'paper', showarrow: false,
    xanchor: 'center', yanchor: 'middle', textangle: angle || 0,
    font: {family: FONT, size: size, color: 'black'}};
}
const dashLine = {color: '#808080', width: 1.4, dash: '5px,4px'};

const layout = {
  width: W, height: H, margin: {l: 0, r: 0, t: 0, b: 0, pad: 0},
  paper_bgcolor: 'white', plot_bgcolor: 'white', showlegend: true,
  font: {family: FONT, color: 'black'},
  xaxis: Object.assign({}, ax, {domain: [fx(229.3), fx(1044.4)], range: [-4, 7], anchor: 'y',
    tickvals: wTickVals, ticktext: wTickText, minor: minorW, ticklabelstandoff: -8}),
  yaxis: Object.assign({}, ax, {domain: yDomAB, range: [-0.02, 0.55], anchor: 'x',
    tickvals: pdfTickVals, ticktext: pdfTickText, ticklabelstandoff: 0}),
  xaxis2: Object.assign({}, ax, {domain: [fx(1244.5), fx(2059.6)], range: [-4, 7], anchor: 'y2',
    tickvals: wTickVals, ticktext: wTickText, minor: minorW, ticklabelstandoff: -8}),
  yaxis2: Object.assign({}, ax, {domain: yDomAB, range: [-0.02, 0.55], anchor: 'x2',
    tickvals: pdfTickVals, ticktext: pdfTickText, ticklabelstandoff: 0}),
  xaxis3: Object.assign({}, ax, {domain: [fx(727.5), fx(1568.3)], range: [0, 49], anchor: 'y3',
    tickvals: siteTickVals, tickfont: {family: FONT, size: 47, color: 'black'}, ticklabelstandoff: -11}),
  yaxis3: Object.assign({}, ax, {domain: [fy(1906), fy(1111.6)], range: [0, 0.032], anchor: 'x3',
    tickvals: rmseTickVals, ticktext: rmseTickText, tickfont: {family: FONT, size: 49, color: 'black'},
    minor: {ticks: 'inside', ticklen: 6, tickwidth: 1.5, tickcolor: 'black', dtick: 0.005, tick0: 0},
    ticklabelstandoff: -1}),
  legend: Object.assign({}, legendStyle, {x: fx(621), y: fy(133)}),
  legend2: Object.assign({}, legendStyle, {x: fx(1526), y: fy(126)}),
  shapes: [
    {type: 'rect', xref: 'paper', yref: 'paper', x0: 0, x1: fx(23), y0: 0, y1: 1,
      fillcolor: '#79d5e4', line: {width: 0}, layer: 'above'},
    {type: 'line', xref: 'x', yref: 'y domain', x0: 0, x1: 0, y0: 0, y1: 1, line: dashLine, layer: 'below'},
    {type: 'line', xref: 'x domain', yref: 'y', x0: 0, x1: 1, y0: 0, y1: 0, line: dashLine, layer: 'below'},
    {type: 'line', xref: 'x2', yref: 'y2 domain', x0: 0, x1: 0, y0: 0, y1: 1, line: dashLine, layer: 'below'},
    {type: 'line', xref: 'x2 domain', yref: 'y2', x0: 0, x1: 1, y0: 0, y1: 0, line: dashLine, layer: 'below'}
  ],
  annotations: [
    ann('(a) PDF based on profile sampling', 636.5, 75, 50),
    ann('(b) PDF based on composite', 1652, 75, 50),
    ann('(c) RMSE vs number of profiling sites', 1148, 1074, 51),
    ann('PDF', 104, 494, 46, -90),
    ann('PDF', 1121, 494, 46, -90),
    ann('w [m s<sup>\u22121</sup>]', 636.5, 966, 47),
    ann('w [m s<sup>\u22121</sup>]', 1652, 966, 47),
    ann('RMSE', 569, 1509, 48, -90),
    ann('Number of sites', 1148, 1990, 48)
  ]
};

Plotly.newPlot('chart', traces, layout, {displayModeBar: false, staticPlot: true});
</script></body></html>
